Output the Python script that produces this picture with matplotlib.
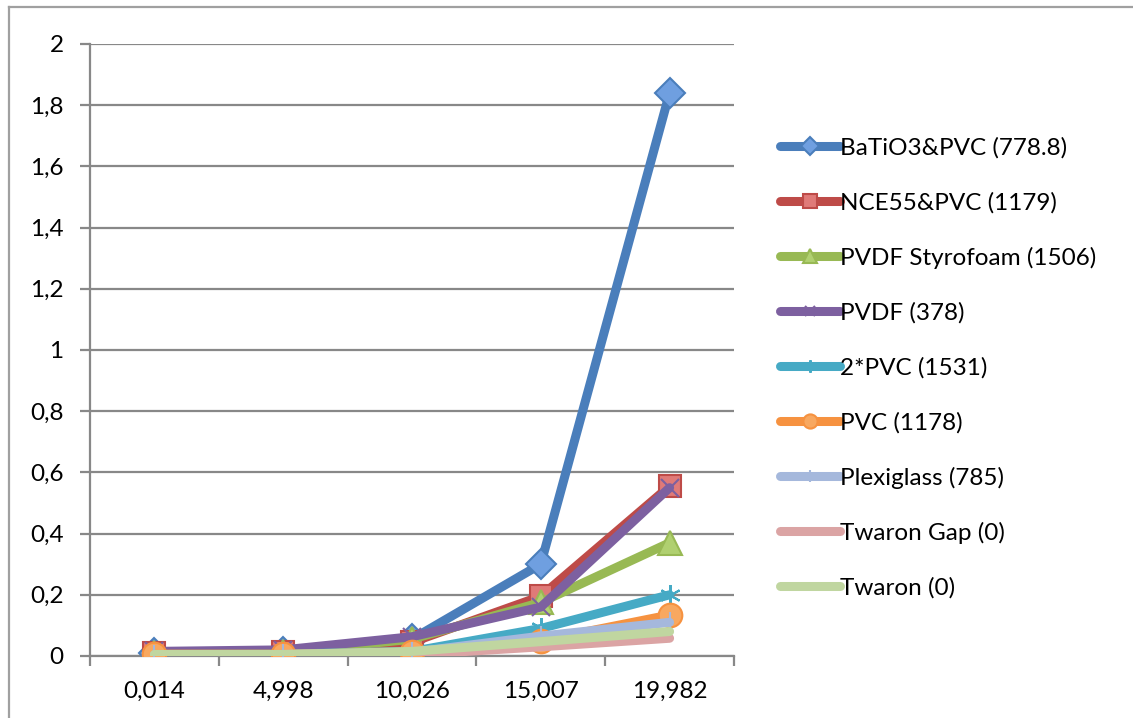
import matplotlib.pyplot as plt
from matplotlib.lines import Line2D

plt.rcParams['font.family'] = ['Lato', 'DejaVu Sans']

# categories (x axis) and series values
categories = ['0,014', '4,998', '10,026', '15,007', '19,982']

batio3_pvc = [0.01, 0.012, 0.055, 0.30, 1.84]
nce55_pvc = [0.01, 0.012, 0.045, 0.195, 0.555]
pvdf_styro = [0.01, 0.012, 0.055, 0.175, 0.37]
pvdf = [0.015, 0.02, 0.063, 0.16, 0.55]
pvc2 = [0.005, 0.006, 0.015, 0.09, 0.20]
pvc = [0.006, 0.006, 0.012, 0.05, 0.134]
plexiglass = [0.004, 0.005, 0.012, 0.065, 0.11]
twaron_gap = [0.0, 0.0, 0.004, 0.03, 0.058]
twaron = [0.005, 0.005, 0.015, 0.047, 0.08]

labels = ['BaTiO3&PVC (778.8)', 'NCE55&PVC (1179)', 'PVDF Styrofoam (1506)',
          'PVDF (378)', '2*PVC (1531)', 'PVC (1178)', 'Plexiglass (785)',
          'Twaron Gap (0)', 'Twaron (0)']
series = [batio3_pvc, nce55_pvc, pvdf_styro, pvdf, pvc2, pvc, plexiglass,
          twaron_gap, twaron]
colors = ['#4a7ebb', '#be4b48', '#98b954', '#7d60a0', '#46aac5', '#f69240',
          '#a5b8dc', '#dba4a4', '#c0d6a0']
faces = ['#6f9fe0', '#e07a78', '#b0d070', '#9b80c0', '#60c8e0', '#f8a860',
         '#b8c8e8', '#e8b8b8', '#d0e4b8']
markers = ['D', 's', '^', 'x', (6, 2, 0), 'o', '|', None, None]
msizes = [15, 16, 17, 13, 15, 17, 14, 0, 0]

fig = plt.figure(figsize=(11.33, 7.18), dpi=100)
ax = fig.add_axes([90 / 1133, 1 - 656 / 718, 644 / 1133, 612 / 718])

# outer chart frame
fig.add_artist(Line2D([9 / 1133, 9 / 1133], [0, 1 - 7 / 718], color='#a0a0a0', lw=1.6))
fig.add_artist(Line2D([9 / 1133, 1], [1 - 7 / 718, 1 - 7 / 718], color='#a0a0a0', lw=1.6))

x = list(range(len(categories)))
handles = []
for vals, lab, c, fc, m, ms in zip(series, labels, colors, faces, markers, msizes):
    h, = ax.plot(x, vals, color=c, lw=6.5, solid_capstyle='round',
                 solid_joinstyle='round', marker=m, markersize=ms,
                 markerfacecolor=fc, markeredgecolor=c, markeredgewidth=1.5,
                 label=lab, zorder=3)
    handles.append(h)

ax.set_xlim(-0.5, 4.5)
ax.set_ylim(0, 2)
ax.set_yticks([0, 0.2, 0.4, 0.6, 0.8, 1, 1.2, 1.4, 1.6, 1.8, 2])
ax.set_yticklabels(['0', '0,2', '0,4', '0,6', '0,8', '1', '1,2', '1,4', '1,6', '1,8', '2'])
ax.set_xticks(x)
ax.set_xticklabels(categories)
ax.set_xticks([i - 0.5 for i in range(6)], minor=True)
ax.tick_params(axis='x', which='major', length=0, pad=18, labelsize=17.5)
ax.tick_params(axis='x', which='minor', length=7, width=1.6, color='#888888')
ax.tick_params(axis='y', length=7, width=1.6, color='#888888', pad=12, labelsize=17.5)
ax.grid(axis='y', color='#888888', lw=1.6, zorder=0)
ax.set_axisbelow(True)
for s in ['top', 'right']:
    ax.spines[s].set_visible(False)
for s in ['left', 'bottom']:
    ax.spines[s].set_color('#888888')
    ax.spines[s].set_linewidth(1.6)
ax.spines['bottom'].set_zorder(1)

leg = fig.legend(handles=handles, loc='upper left',
                 bbox_to_anchor=(780 / 1133, 1 - 137 / 718), frameon=False,
                 fontsize=17.5, handlelength=2.47, handletextpad=0.0,
                 labelspacing=1.37, markerscale=0.6, borderpad=0,
                 borderaxespad=0)

fig.savefig('out.png', dpi=100)
